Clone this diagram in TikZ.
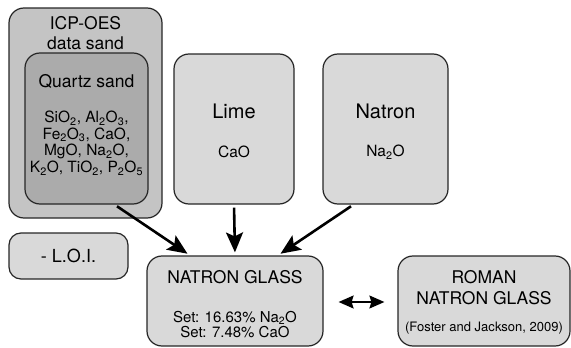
\documentclass[tikz,border=0pt]{standalone}
\usepackage{fontspec}
\setmainfont{TeX Gyre Heros}
\usetikzlibrary{arrows.meta}
\begin{document}
\begin{tikzpicture}[x=1pt,y=-1pt,
  box/.style={draw=black!85,line width=1.2pt,rounded corners=15pt,fill=black!15,inner sep=0pt},
  arr/.style={line width=2.6pt,-{Stealth[length=20pt,width=17pt,inset=4pt]},shorten <=3pt,shorten >=3pt},
  big/.style={font=\fontsize{20}{24}\selectfont},
  hd/.style={font=\fontsize{17.5}{20}\selectfont,align=center},
  txt/.style={font=\fontsize{15.5}{16.7}\selectfont,align=center}]
  \useasboundingbox (0,0) rectangle (571,348);
  % sand
  \node[box,fill=black!23,minimum width=153pt,minimum height=210pt] (icp) at (85.5,113) {};
  \node[box,fill=black!33,minimum width=123pt,minimum height=151pt] (qs) at (86.5,128.5) {};
  \node[hd] (icpt) at (85.5,33) {ICP-OES\\data sand};
  \node[hd] (qst) at (86.5,81) {Quartz sand};
  \node[txt] (qsox) at (86.5,143) {SiO\textsubscript{2}, Al\textsubscript{2}O\textsubscript{3},\\
    Fe\textsubscript{2}O\textsubscript{3}, CaO,\\
    MgO, Na\textsubscript{2}O,\\
    K\textsubscript{2}O, TiO\textsubscript{2}, P\textsubscript{2}O\textsubscript{5}};
  % lime and natron
  \node[box,minimum width=120pt,minimum height=150pt] (lime) at (234,129) {};
  \node[big] (limet) at (234,111) {Lime};
  \node[txt] (limeox) at (234,152) {CaO};
  \node[box,minimum width=125pt,minimum height=150pt] (natron) at (385.5,129) {};
  \node[big] (natront) at (385.5,111) {Natron};
  \node[txt] (natronox) at (385.5,152) {Na\textsubscript{2}O};
  % loi
  \node[box,rounded corners=12pt,minimum width=119pt,minimum height=46pt,font=\fontsize{18}{20}\selectfont] (loi) at (68.5,256) {- L.O.I.};
  % glasses
  \node[box,minimum width=176pt,minimum height=90pt] (glass) at (235,301) {};
  \node[font=\fontsize{17.5}{20}\selectfont] (glasst) at (235,277) {NATRON GLASS};
  \node[txt,font=\fontsize{15}{15.5}\selectfont] (glassset) at (235,324.5) {Set: 16.63\% Na\textsubscript{2}O\\Set: 7.48\% CaO};
  \node[box,minimum width=172pt,minimum height=90pt] (roman) at (484,301) {};
  \node[align=center,font=\fontsize{17.5}{21}\selectfont] (romant) at (484,287.5) {ROMAN\\NATRON GLASS};
  \node[font=\fontsize{13}{15}\selectfont] (romanref) at (484,328) {(Foster and Jackson, 2009)};
  % arrows
  \draw[arr] ([xshift=28pt]qs.south) -- ([xshift=-45pt]glass.north);
  \draw[arr] (lime.south) -- (glass.north);
  \draw[arr] ([xshift=-32pt]natron.south) -- ([xshift=43pt]glass.north);
  \draw[line width=1.6pt,{Stealth[length=15pt,width=13pt,inset=2pt]}-{Stealth[length=15pt,width=13pt,inset=2pt]},shorten <=15pt,shorten >=13pt] ([yshift=-1pt]glass.east) -- ([yshift=-1pt]roman.west);
\end{tikzpicture}
\end{document}
